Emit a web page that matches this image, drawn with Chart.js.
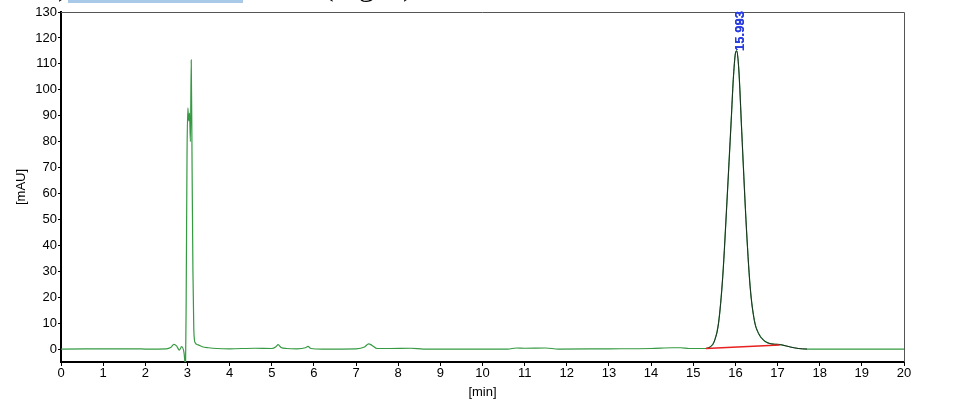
<!DOCTYPE html>
<html>
<head>
<meta charset="utf-8">
<script src="https://cdn.jsdelivr.net/npm/chart.js@4.4.1/dist/chart.umd.min.js"></script>
<style>
  html, body { margin: 0; padding: 0; background: #fff; }
  #wrap { width: 959px; height: 403px; position: relative; }
</style>
</head>
<body>
<div id="wrap"><canvas id="c" width="959" height="403"></canvas></div>
<script>
// ---- Data ----
const times = [0, 1.8, 2.0, 2.5, 2.6, 2.68, 2.74, 2.81, 2.86, 2.92, 2.94, 2.955, 2.97, 2.99, 3.01, 3.03, 3.05, 3.07, 3.09, 3.11, 3.13, 3.15, 3.18, 3.25, 3.35, 3.5, 3.7, 4.0, 4.6, 5.0, 5.1, 5.15, 5.22, 5.35, 5.6, 5.8, 5.86, 5.93, 6.2, 7.0, 7.2, 7.3, 7.38, 7.5, 7.8, 8.3, 8.6, 10.6, 10.8, 11.0, 11.5, 11.8, 13.0, 14.0, 14.5, 14.7, 14.9, 15.3, 15.4, 15.5, 15.6, 15.7, 15.8, 15.9, 15.95, 16.0, 16.03, 16.08, 16.15, 16.25, 16.35, 16.45, 16.55, 16.7, 16.85, 17.0, 17.1, 17.3, 17.5, 17.7, 20];
const signal = [0, 0.1, 0.0, 0.1, 0.6, 1.8, 1.2, -0.4, 0.9, -1.6, -5, -6, 20, 75, 93, 88, 91, 80, 111.5, 70, 30, 8, 2.5, 1.6, 0.9, 0.5, 0.2, 0.1, 0.3, 0.2, 0.9, 1.7, 0.6, 0.2, 0.1, 0.5, 1.0, 0.2, 0.0, 0.1, 0.8, 2.0, 1.4, 0.2, 0.2, 0.3, 0.0, 0.0, 0.4, 0.3, 0.4, 0.0, 0.1, 0.2, 0.5, 0.5, 0.2, 0.2, 0.8, 3, 10, 28, 57, 88, 104, 114, 115, 108, 84, 50, 24, 11, 6, 3, 2, 1.8, 1.6, 0.8, 0.2, 0, 0];
const peakWindow = [15.3, 17.7];          // integrated peak region (dark overlay)
const baselineTimes = [15.3, 17.05];       // red integration baseline
const baselineValues = [0.2, 1.6];
const peakLabels = ['15.983', '15.993'];
const peakTime = 15.993;
const peakHeight = 115;
const xTicks = [0, 20, 1];                 // min, max, step
const yTicks = [-5, 130, 10];

const trace = times.map((t, i) => ({ x: t, y: signal[i] }));
const peakTrace = trace.filter(p => p.x >= peakWindow[0] && p.x <= peakWindow[1]);
const baseLine = baselineTimes.map((t, i) => ({ x: t, y: baselineValues[i] }));

const FONT = 'Liberation Sans, Arial, sans-serif';

const decor = {
  id: 'decor',
  afterDraw(chart) {
    const { ctx, chartArea: a, scales } = chart;
    ctx.save();
    // top and right frame
    ctx.strokeStyle = '#555';
    ctx.lineWidth = 1;
    ctx.beginPath();
    ctx.moveTo(a.left, a.top + 0.5);
    ctx.lineTo(a.right + 0.5, a.top + 0.5);
    ctx.lineTo(a.right + 0.5, a.bottom);
    ctx.stroke();
    // peak label (rotated)
    const px = scales.x.getPixelForValue(peakTime) + 5;
    const py = scales.y.getPixelForValue(peakHeight);
    ctx.translate(px, py);
    ctx.rotate(-Math.PI / 2);
    ctx.fillStyle = '#2a3ee0';
    ctx.font = 'bold 13px ' + FONT;
    ctx.textAlign = 'left';
    ctx.textBaseline = 'middle';
    peakLabels.forEach(s => ctx.fillText(s, 0, 0));
    ctx.restore();

    // clipped header text of the page above
    ctx.save();
    ctx.fillStyle = '#a9c9e9';
    ctx.fillRect(68, 0, 175, 3);
    ctx.fillStyle = '#000';
    ctx.font = '32px "Liberation Serif", serif';
    ctx.textBaseline = 'alphabetic';
    ctx.textAlign = 'left';
    ctx.fillText(')', 58, -5);
    ctx.fillText('(mg/L)', 323, -5);
    ctx.restore();
  }
};

new Chart(document.getElementById('c'), {
  type: 'line',
  data: {
    datasets: [
      { data: trace, borderColor: '#359a42', borderWidth: 1.2, pointRadius: 0, cubicInterpolationMode: 'monotone', order: 3 },
      { data: peakTrace, borderColor: '#1c2e22', borderWidth: 1, pointRadius: 0, cubicInterpolationMode: 'monotone', order: 2 },
      { data: baseLine, borderColor: '#e82020', borderWidth: 1.5, pointRadius: 0, order: 1 }
    ]
  },
  options: {
    responsive: false,
    devicePixelRatio: 1,
    animation: false,
    layout: { padding: { top: 12, right: 55, left: 0, bottom: 0 } },
    plugins: { legend: { display: false }, tooltip: { enabled: false } },
    scales: {
      x: {
        type: 'linear',
        min: xTicks[0], max: xTicks[1],
        afterFit(s) { s.height = 41; },
        ticks: { stepSize: xTicks[2], color: '#000', font: { family: FONT, size: 13 }, padding: 0, maxRotation: 0, autoSkip: false },
        grid: { drawOnChartArea: false, drawTicks: true, tickLength: 4, color: '#000' },
        border: { display: true, color: '#000', width: 2 },
        title: { display: true, text: '[min]', color: '#000', font: { family: FONT, size: 13 }, padding: { top: 0, bottom: 3 } }
      },
      y: {
        type: 'linear',
        min: yTicks[0], max: yTicks[1],
        afterFit(s) { s.width = 61; },
        afterBuildTicks(s) {
          const arr = [];
          for (let v = 0; v <= yTicks[1]; v += yTicks[2]) arr.push({ value: v });
          s.ticks = arr;
        },
        ticks: { color: '#000', font: { family: FONT, size: 13 }, padding: 1 },
        grid: { drawOnChartArea: false, drawTicks: true, tickLength: 3, color: '#000' },
        border: { display: true, color: '#000', width: 2 },
        title: { display: true, text: '[mAU]', color: '#000', font: { family: FONT, size: 13 }, padding: { top: 14, bottom: 0 } }
      }
    }
  },
  plugins: [decor]
});
</script>
</body>
</html>
